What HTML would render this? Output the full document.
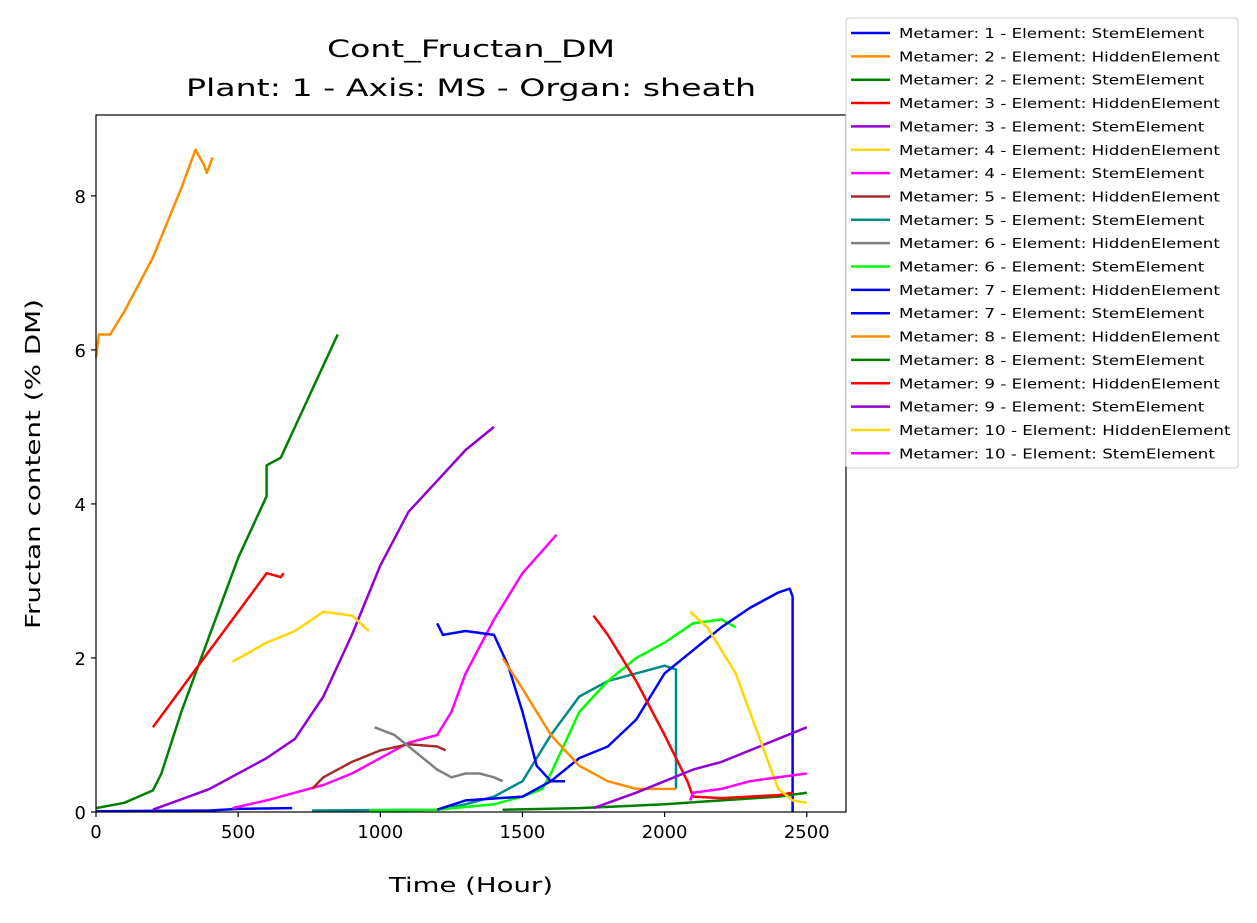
<!DOCTYPE html>
<html><head><meta charset="utf-8"><style>
body{margin:0;background:#fff;font-family:"DejaVu Sans","Liberation Sans",sans-serif}
</style></head><body>
<svg id="c" width="1257" height="919" xmlns="http://www.w3.org/2000/svg"></svg>
<script>
const seriesNames=["Metamer: 1 - Element: StemElement","Metamer: 2 - Element: HiddenElement","Metamer: 2 - Element: StemElement","Metamer: 3 - Element: HiddenElement","Metamer: 3 - Element: StemElement","Metamer: 4 - Element: HiddenElement","Metamer: 4 - Element: StemElement","Metamer: 5 - Element: HiddenElement","Metamer: 5 - Element: StemElement","Metamer: 6 - Element: HiddenElement","Metamer: 6 - Element: StemElement","Metamer: 7 - Element: HiddenElement","Metamer: 7 - Element: StemElement","Metamer: 8 - Element: HiddenElement","Metamer: 8 - Element: StemElement","Metamer: 9 - Element: HiddenElement","Metamer: 9 - Element: StemElement","Metamer: 10 - Element: HiddenElement","Metamer: 10 - Element: StemElement"];
const seriesColors=["#0000ff","#ff8c00","#008000","#ff0000","#9400d3","#ffd700","#ff00ff","#a52a2a","#008b8b","#808080","#00ff00","#0000ff","#0000ff","#ff8c00","#008000","#ff0000","#9400d3","#ffd700","#ff00ff"];
const s1=[[0,0.01],[400,0.02],[500,0.04],[690,0.05]];
const s2=[[0,5.9],[10,6.2],[50,6.2],[100,6.5],[200,7.2],[300,8.1],[350,8.6],[380,8.4],[390,8.3],[410,8.5]];
const s3=[[0,0.05],[100,0.12],[200,0.28],[230,0.5],[300,1.3],[400,2.3],[500,3.3],[600,4.1],[600,4.5],[650,4.6],[700,5.0],[800,5.8],[850,6.2]];
const s4=[[200,1.1],[300,1.6],[400,2.1],[500,2.6],[550,2.85],[600,3.1],[650,3.05],[660,3.1]];
const s5=[[200,0.03],[400,0.3],[600,0.7],[700,0.95],[800,1.5],[900,2.3],[1000,3.2],[1100,3.9],[1200,4.3],[1300,4.7],[1400,5.0]];
const s6=[[480,1.95],[600,2.2],[700,2.35],[800,2.6],[900,2.55],[960,2.35]];
const s7=[[480,0.05],[600,0.15],[700,0.25],[800,0.35],[900,0.5],[1000,0.7],[1100,0.9],[1200,1.0],[1250,1.3],[1300,1.8],[1400,2.5],[1500,3.1],[1620,3.6]];
const s8=[[760,0.3],[800,0.45],[900,0.65],[1000,0.8],[1100,0.88],[1200,0.85],[1230,0.8]];
const s9=[[760,0.02],[1200,0.03],[1300,0.1],[1400,0.2],[1500,0.4],[1600,1.0],[1700,1.5],[1800,1.7],[1900,1.8],[2000,1.9],[2040,1.85],[2040,0.3]];
const s10=[[980,1.1],[1050,1.0],[1100,0.85],[1200,0.55],[1250,0.45],[1300,0.5],[1350,0.5],[1400,0.45],[1430,0.4]];
const s11=[[960,0.02],[1200,0.03],[1400,0.1],[1500,0.2],[1570,0.3],[1600,0.5],[1700,1.3],[1800,1.7],[1900,2.0],[2000,2.2],[2100,2.45],[2200,2.5],[2250,2.4]];
const s12=[[1200,2.45],[1220,2.3],[1300,2.35],[1400,2.3],[1450,1.9],[1500,1.3],[1550,0.6],[1600,0.4],[1650,0.4]];
const s13=[[1200,0.03],[1300,0.15],[1500,0.2],[1600,0.4],[1700,0.7],[1800,0.85],[1900,1.2],[2000,1.8],[2100,2.1],[2200,2.4],[2300,2.65],[2400,2.85],[2440,2.9],[2450,2.8],[2450,0]];
const s14=[[1430,2.0],[1500,1.6],[1600,1.0],[1700,0.6],[1800,0.4],[1900,0.3],[2000,0.3],[2040,0.3]];
const s15=[[1430,0.03],[1700,0.05],[2000,0.1],[2200,0.15],[2400,0.2],[2500,0.25]];
const s16=[[1750,2.55],[1800,2.3],[1900,1.7],[2000,1.0],[2080,0.4],[2100,0.2],[2200,0.18],[2300,0.2],[2400,0.22],[2450,0.25]];
const s17=[[1750,0.05],[1900,0.25],[2000,0.4],[2100,0.55],[2200,0.65],[2300,0.8],[2400,0.95],[2500,1.1]];
const s18=[[2090,2.6],[2150,2.4],[2250,1.8],[2300,1.3],[2350,0.8],[2400,0.3],[2450,0.15],[2500,0.12]];
const s19=[[2090,0.15],[2100,0.25],[2200,0.3],[2300,0.4],[2400,0.45],[2500,0.5]];
const seriesData=[s1,s2,s3,s4,s5,s6,s7,s8,s9,s10,s11,s12,s13,s14,s15,s16,s17,s18,s19];
const xTicks=[0,500,1000,1500,2000,2500];
const yTicks=[0,2,4,6,8];

const L=96,R=846,T=115,B=812,xMax=2638,yMax=9.05;
const xs=v=>L+v/xMax*(R-L), ys=v=>B-v/yMax*(B-T);
const svg=document.getElementById('c');const NS='http://www.w3.org/2000/svg';
function mk(t,a,txt){const e=document.createElementNS(NS,t);for(const k in a)e.setAttribute(k,a[k]);if(txt!==undefined)e.textContent=txt;svg.appendChild(e);return e;}
let t=mk('text',{x:471,y:57,'text-anchor':'middle','font-size':'24',textLength:288,lengthAdjust:'spacingAndGlyphs',fill:'#000'},'Cont_Fructan_DM');


t=mk('text',{x:471,y:96,'text-anchor':'middle','font-size':'24',textLength:570,lengthAdjust:'spacingAndGlyphs',fill:'#000'},'Plant: 1 - Axis: MS - Organ: sheath');


seriesData.forEach((d,i)=>{
  const p=mk('polyline',{points:d.map(q=>xs(q[0]).toFixed(1)+','+ys(q[1]).toFixed(1)).join(' '),fill:'none',stroke:seriesColors[i],'stroke-width':'2.5','stroke-linejoin':'round'});
  
  
});
let f=mk('rect',{x:L,y:T,width:R-L,height:B-T,fill:'none',stroke:'#000','stroke-width':'1.2'});


xTicks.forEach(v=>{
  const x=xs(v);mk('line',{x1:x,x2:x,y1:B,y2:B+5,stroke:'#000','stroke-width':'1.2'});
  const e=mk('text',{x:x,y:B+26,'text-anchor':'middle','font-size':'18'},String(v));
  
  
});
yTicks.forEach(v=>{
  const y=ys(v);mk('line',{x1:L-5,x2:L,y1:y,y2:y,stroke:'#000','stroke-width':'1.2'});
  const e=mk('text',{x:L-10,y:y+7,'text-anchor':'end','font-size':'18'},String(v));
  
  
});
t=mk('text',{x:471,y:892,'text-anchor':'middle','font-size':'20',textLength:164,lengthAdjust:'spacingAndGlyphs'},'Time (Hour)');


t=mk('text',{x:40,y:464,'text-anchor':'middle','font-size':'20',textLength:330,lengthAdjust:'spacingAndGlyphs',transform:'rotate(-90 40 464)'},'Fructan content (% DM)');


const lg=mk('rect',{x:846,y:18,width:392,height:450,rx:3,fill:'#fff',stroke:'#ccc','stroke-width':'1'});


seriesNames.forEach((n,i)=>{
  const y=33+i*23.35;
  mk('line',{x1:851,x2:890,y1:y,y2:y,stroke:seriesColors[i],'stroke-width':'2.5'});
  const e=mk('text',{x:899,y:y+5,'font-size':'13'},n);
  
  
  const w=e.getComputedTextLength();
  e.setAttribute('textLength',(w*331/(w>0?w:1)*(w/258)).toFixed(1));
  e.setAttribute('lengthAdjust','spacingAndGlyphs');
});
</script>
</body></html>
